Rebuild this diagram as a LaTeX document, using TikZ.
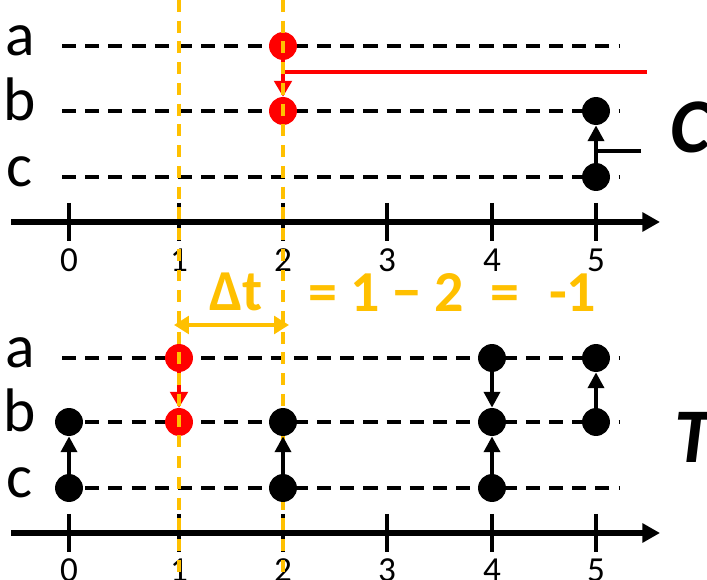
\documentclass[tikz,border=0pt]{standalone}
\usepackage{fontspec}
\setmainfont{Carlito}
\usetikzlibrary{arrows.meta}
\definecolor{corange}{RGB}{255,192,0}
\definecolor{crouge}{RGB}{255,0,0}
\tikzset{
  lane/.style={line width=2.3pt, dash pattern=on 8pt off 5.2pt},
  axe/.style={line width=3.1pt, -{Triangle[length=10pt,width=10.5pt]}},
  tick/.style={line width=2.7pt},
  guide/.style={corange, line width=2.2pt, dash pattern=on 6.8pt off 5pt},
  dot/.style={circle, fill=black, inner sep=0pt, minimum size=15.9pt},
  reddot/.style={dot, fill=crouge},
  swap/.style={line width=2.5pt, -{Triangle[length=9pt,width=9pt]}},
  redswap/.style={crouge, line width=1.9pt, -{Triangle[length=9pt,width=10pt]}},
  lbl/.style={font=\fontsize{35}{40}\selectfont, anchor=base},
  num/.style={font=\fontsize{20}{24}\selectfont},
  eqtext/.style={corange, font=\bfseries\fontsize{33}{38}\selectfont},
}
\begin{document}
\begin{tikzpicture}[x=0.02cm, y=-0.02cm]
\useasboundingbox (0,0) rectangle (707,580);
% lanes and time axes
\foreach \y/\lab in {46/a,111/b,177/c,358/a,422/b,488/c}
  {\draw[lane] (62,\y) -- (620,\y); \node[lbl] (lab\lab\y) at (20,\y+10) {\lab};}
\foreach \y/\ly in {222/260,533/570}{
  \coordinate (ax0\y) at (11,\y); \coordinate (ax1\y) at (660,\y);
  \draw[axe] (ax0\y) -- (ax1\y);
  \foreach \t/\x in {0/69,1/179,2/283,3/387,4/492,5/596}
    {\draw[tick] (\x,\y-19) -- (\x,\y+19); \node[num] (t\t\y) at (\x,\ly) {\t};}
}
% red events
\node[reddot] (Ca2) at (283,46) {};
\node[reddot] (Cb2) at (283,111) {};
\coordinate (redEnd) at (647,72);
\draw[crouge, line width=2.5pt] (Ca2.center) |- (redEnd);
\draw[redswap] (Ca2) -- (Cb2);
\node[reddot] (Ta1) at (179,358) {};
\node[reddot] (Tb1) at (179,422) {};
\draw[redswap] (Ta1) -- (Tb1);
% dashed guides
\draw[guide] (179,0) -- (179,580);
\draw[guide] (283,0) -- (283,580);
\coordinate (dtL) at (174,325); \coordinate (dtR) at (289,325);
\draw[corange, line width=2.2pt, {Triangle[length=8.5pt,width=10pt]}-{Triangle[length=8.5pt,width=10pt]}] (dtL) -- (dtR);
\node[eqtext] (dt) at (236,292) {Δt};
\node[eqtext, anchor=west] (eq) at (302,292) {= 1 − 2\hspace{15pt}=\hspace{17pt}-1};
% black events
\foreach \n/\x/\y in {Cb5/596/111,Cc5/596/177,Tb0/69/422,Tc0/69/488,Tb2/283/422,Tc2/283/488,
  Ta4/492/358,Tb4/492/422,Tc4/492/488,Ta5/596/358,Tb5/596/422}
  {\node[dot] (\n) at (\x,\y) {};}
\foreach \a/\b in {Cc5/Cb5,Tc0/Tb0,Tc2/Tb2,Ta4/Tb4,Tc4/Tb4,Tb5/Ta5}
  {\draw[swap] (\a) -- (\b);}
\coordinate (cEnd) at (641,151);
\draw[line width=2.5pt] (cEnd) -- (cEnd -| Cb5);
\node[font=\bfseries\itshape\fontsize{44}{50}\selectfont, anchor=base west] (C) at (664,153) {C};
\node[font=\bfseries\itshape\fontsize{44}{50}\selectfont, anchor=base west] (T) at (668,463) {T};
\end{tikzpicture}
\end{document}
